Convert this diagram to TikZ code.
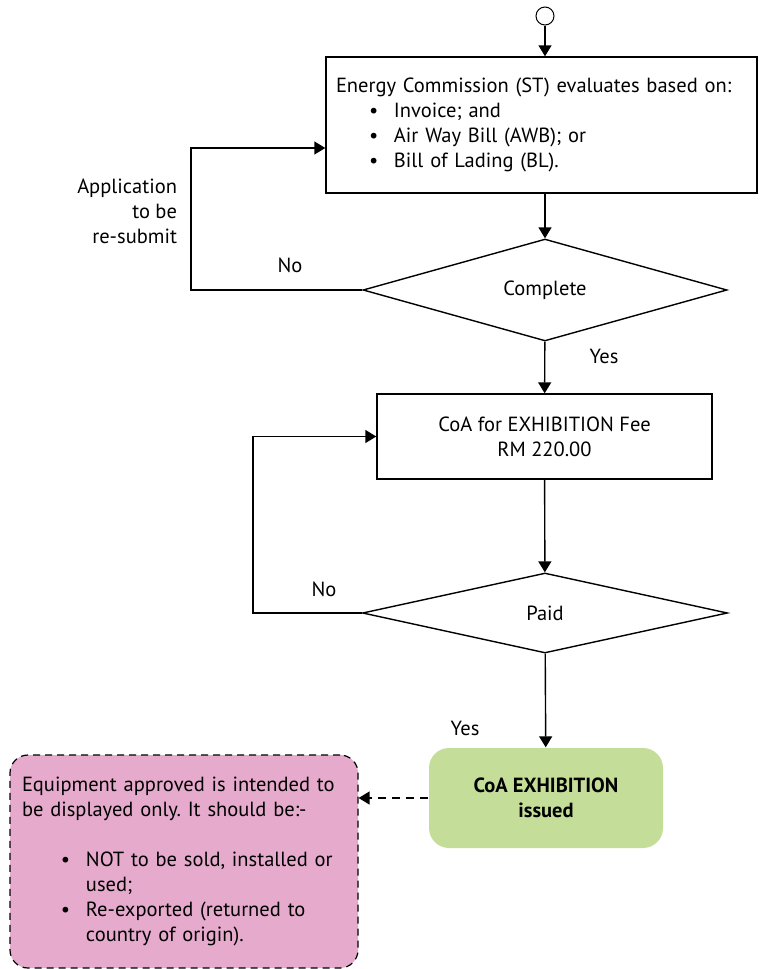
\documentclass[tikz,border=0pt]{standalone}
\usepackage{fontspec}
\setmainfont{PT Sans}
\usetikzlibrary{shapes.geometric,arrows.meta}
\definecolor{issuedgreen}{RGB}{196,222,153}
\definecolor{notepink}{RGB}{230,170,205}
\newcommand{\bul}[2]{\hspace*{#1}\makebox[25pt][l]{\textbullet}#2}
\frenchspacing
\begin{document}
\begin{tikzpicture}[x=1pt,y=-1pt,line join=miter,>={Triangle[width=13pt,length=11pt]},line width=1.4pt]
	\tikzset{every node/.style={font=\fontsize{20.5}{25}\selectfont}}
	\tikzset{procbox/.style={draw,rectangle,inner sep=0pt}}
	\tikzset{decision/.style={draw,diamond,inner sep=0pt}}
	\useasboundingbox (0,0) rectangle (760,969);
	\node[circle,draw,line width=1pt,minimum size=18pt,inner sep=0pt] (start) at (545,16) {};
	\node[procbox,minimum width=431pt,minimum height=136pt,align=left,text width=411pt] (eval) at (541.5,125)
		{Energy Commission (ST) evaluates based on:\\
		\bul{33pt}{Invoice; and}\\
		\bul{33pt}{Air Way Bill (AWB); or}\\
		\bul{33pt}{Bill of Lading (BL).}\\[8pt]};
	\node[decision,minimum width=364pt,minimum height=80pt] (complete) at (545,290) {Complete};
	\node[procbox,minimum width=335pt,minimum height=85pt,align=center] (fee) at (544.5,436.5)
		{CoA for EXHIBITION Fee\\RM 220.00};
	\node[decision,minimum width=365pt,minimum height=80pt] (paid) at (545,613) {Paid};
	\node[rectangle,rounded corners=20pt,fill=issuedgreen,minimum width=234pt,minimum height=100pt,align=center,font=\fontsize{20.5}{25}\selectfont\bfseries] (issued) at (546,798)
		{CoA EXHIBITION\\issued};
	\node[rectangle,rounded corners=18pt,draw,line width=1.2pt,dash pattern=on 7pt off 5pt,fill=notepink,minimum width=348pt,minimum height=213pt,align=left,text width=336pt,inner sep=6pt] (note) at (184,861.5)
		{\hspace*{6pt}Equipment approved is intended to\\
		\hspace*{6pt}be displayed only. It should be:-\\[25pt]
		\bul{45pt}{NOT to be sold, installed or}\\
		\hspace*{70pt}used;\\
		\bul{45pt}{Re-exported (returned to}\\
		\hspace*{70pt}country of origin).};
	\coordinate (back1) at (191,148);
	\coordinate (back2) at (253,613);
	\draw[->] (start) -- (start |- eval.north);
	\draw[->] (complete |- eval.south) -- (complete);
	\draw[->] (complete) -- (fee);
	\draw[->] (fee) -- (paid);
	\draw[->] (paid) -- (issued);
	\draw[->] (complete.west) -| (back1) -- (back1 -| eval.west);
	\draw[->] (paid.west) -| (back2) |- (fee.west);
	\draw[->,dash pattern=on 8pt off 6pt] (issued.west) -- (issued.west -| note.east);
	\node[align=right,anchor=east] (resubmit) at (181,211) {Application\\to be\\re-submit};
	\node (no1) at (290,265) {No};
	\node (yes1) at (604,356) {Yes};
	\node (no2) at (324,589) {No};
	\node (yes2) at (465,728) {Yes};
\end{tikzpicture}
\end{document}
